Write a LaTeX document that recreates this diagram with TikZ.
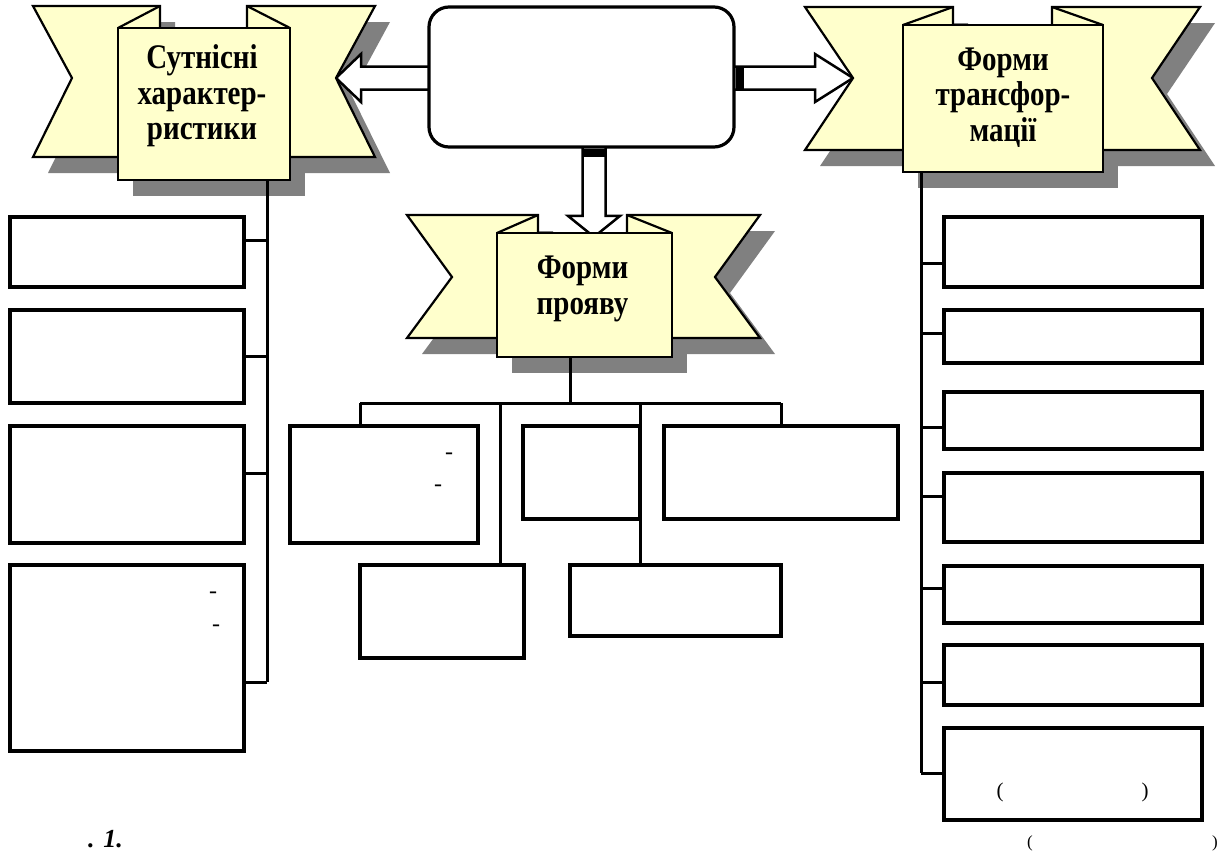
\documentclass[tikz,border=0pt]{standalone}
\usepackage{fontspec}
\setmainfont{Liberation Serif}
\newfontfamily\ribfont[FakeStretch=0.84]{Liberation Serif}
\usetikzlibrary{fit,calc}
\definecolor{ribbon}{RGB}{255,255,204}
\definecolor{shadowgray}{RGB}{128,128,128}
\pgfdeclarelayer{shadowlayer}
\pgfdeclarelayer{arrowlayer}
\pgfsetlayers{shadowlayer,arrowlayer,main}

\tikzset{
  box/.style={draw, line width=3.2pt, fill=white, inner sep=0pt},
  conn/.style={line width=3pt},
  rib/.style={draw, line width=2.2pt, fill=ribbon, line join=miter},
  ribline/.style={line width=2.2pt},
  sqbox/.style={draw, line width=2.2pt, fill=ribbon, inner sep=0pt},
  hollow/.style={draw, line width=2.5pt, fill=white, line join=miter},
  btext/.style={font=\ribfont\fontsize{34.5}{35.5}\selectfont\bfseries, align=center, inner sep=0pt},
  dashtext/.style={font=\fontsize{24}{28}\selectfont, inner sep=0pt},
  partext/.style={font=\fontsize{21}{24}\selectfont, inner sep=0pt},
  captext/.style={font=\fontsize{17}{20}\selectfont, inner sep=0pt},
  figtext/.style={font=\fontsize{26}{30}\selectfont\bfseries\itshape, inner sep=0pt},
}

% #1 name, #2 L, #3 R, #4 T, #5 B, #6 SL, #7 SR, #8 ST, #9 SB
\newcommand\banner[9]{%
  \begin{pgfonlayer}{shadowlayer}
    \fill[shadowgray, shift={(15,16)}] (#2,#4) -- (#6+\ribfl,#4) -- (#6+\ribfl,#5) -- (#2,#5) -- (#2+\ribnd,\ribny) -- cycle;
    \fill[shadowgray, shift={(15,16)}] (#3,#4) -- (#7-\ribfr,#4) -- (#7-\ribfr,#5) -- (#3,#5) -- (#3-\ribnd,\ribny) -- cycle;
    \fill[shadowgray, shift={(15,16)}] (#6,#8) rectangle (#7,#9);
  \end{pgfonlayer}
  \path[rib] (#2,#4) -- (#6+\ribfl,#4) -- (#6+\ribfl,#5) -- (#2,#5) -- (#2+\ribnd,\ribny) -- cycle;
  \draw[ribline] (#6+\ribfl,#4) -- (#6,#8);
  \path[rib] (#3,#4) -- (#7-\ribfr,#4) -- (#7-\ribfr,#5) -- (#3,#5) -- (#3-\ribnd,\ribny) -- cycle;
  \draw[ribline] (#7-\ribfr,#4) -- (#7,#8);
  \node[sqbox, fit={(#6,#8) (#7,#9)}] (#1) {};
  \coordinate (#1-ln) at (#2+\ribnd,\ribny);
  \coordinate (#1-rn) at (#3-\ribnd,\ribny);
}

\begin{document}
\begin{tikzpicture}[x=1pt,y=-1pt]
\useasboundingbox (0,0) rectangle (1229,855);

% ribbons
\def\ribfl{42}\def\ribfr{43}\def\ribnd{39}\def\ribny{78}
\banner{lsq}{33}{375}{6}{157}{118}{290}{28}{180}
\def\ribfl{41}\def\ribfr{45}\def\ribnd{45}\def\ribny{277}
\banner{csq}{407}{760}{215}{338}{497}{672}{233}{357}
\def\ribfl{50}\def\ribfr{51}\def\ribnd{48}\def\ribny{78}
\banner{rsq}{805}{1200}{7}{150}{903}{1103}{25}{172}

\node[btext] (lt) at ($(lsq.center)+(-2,-8)$) {Сутнісні\\характер-\\ристики};
\node[btext] (ct) at ($(csq.center)+(-2,-6)$) {Форми\\прояву};
\node[btext] (rt) at ($(rsq.center)+(0,-1)$) {Форми\\трансфор-\\мації};

% central box
\node[box, rounded corners=20pt, fit={(429,7) (734,147)}] (cb) {};

% hollow arrows
\coordinate (dtip) at ($(csq.north)+(9.5,5)$);
\begin{pgfonlayer}{arrowlayer}
\path[hollow] let \p1=(lsq-rn), \p2=(cb.center) in
  (\x2,\y1+11.5pt) -- (\x1+25pt,\y1+11.5pt) -- (\x1+25pt,\y1+24pt) -- (\p1)
  -- (\x1+25pt,\y1-24pt) -- (\x1+25pt,\y1-11.5pt) -- (\x2,\y1-11.5pt) -- cycle;
\path[hollow] let \p1=(rsq-ln), \p2=(cb.center) in
  (\x2,\y1+11.5pt) -- (\x1-38pt,\y1+11.5pt) -- (\x1-38pt,\y1+24pt) -- (\p1)
  -- (\x1-38pt,\y1-24pt) -- (\x1-38pt,\y1-11.5pt) -- (\x2,\y1-11.5pt) -- cycle;
\path[hollow] let \p1=(dtip), \p2=(cb.center) in
  (\x1-11.5pt,\y2) -- (\x1-11.5pt,\y1+21pt) -- (\x1-26pt,\y1+21pt) -- (\p1)
  -- (\x1+26pt,\y1+21pt) -- (\x1+11.5pt,\y1+21pt) -- (\x1+11.5pt,\y2) -- cycle;
\end{pgfonlayer}
\fill let \p1=(rsq-ln), \p2=(cb.east) in (\x2,\y1+11.5pt) rectangle (\x2+8pt,\y1-11.5pt);
\fill let \p1=(dtip), \p2=(cb.south) in (\x1-11.5pt,\y2) rectangle (\x1+11.5pt,\y2-8pt);

% left column
\node[box, fit={(10,217) (244,287)}] (l1) {};
\node[box, fit={(10,310) (244,403)}] (l2) {};
\node[box, fit={(10,426) (244,543)}] (l3) {};
\node[box, fit={(10,565) (244,751)}] (l4) {};
% centre boxes
\node[box, fit={(290,426) (478,543)}] (bA) {};
\node[box, fit={(523,426) (640,519)}] (bB) {};
\node[box, fit={(664,426) (898,519)}] (bC) {};
\node[box, fit={(360,565) (524,658)}] (bD) {};
\node[box, fit={(570,565) (781,636)}] (bE) {};
% right column
\node[box, fit={(944,217) (1202,287)}] (r1) {};
\node[box, fit={(944,310) (1202,363)}] (r2) {};
\node[box, fit={(944,392) (1202,449)}] (r3) {};
\node[box, fit={(944,473) (1202,542)}] (r4) {};
\node[box, fit={(944,566) (1202,623)}] (r5) {};
\node[box, fit={(944,645) (1202,705)}] (r6) {};
\node[box, fit={(944,728) (1202,820)}] (r7) {};

% left connectors
\coordinate (ls) at (267,0);
\foreach \b/\s in {l1/12,l2/0,l3/11.5,l4/-24}{
  \coordinate (\b-c) at ([yshift=\s pt]\b.east);
  \draw[conn] (\b-c) -- (\b-c -| ls);
}
\draw[conn] (lsq.south -| ls) -- (l4-c -| ls);

% right connectors
\coordinate (rs) at (921,0);
\foreach \b/\s in {r1/-11,r2/3.5,r3/-6.5,r4/11.5,r5/6.5,r6/-7,r7/1}{
  \coordinate (\b-c) at ([yshift=\s pt]\b.west);
  \draw[conn] (\b-c) -- (\b-c -| rs);
}
\draw[conn] (rsq.south -| rs) -- (r7-c -| rs);

% centre connectors
\coordinate (bus) at (0,403);
\coordinate (cdrop) at ([xshift=-14.5pt]csq.south);
\coordinate (aTop) at ([xshift=-24pt]bA.north);
\coordinate (dTop) at ([xshift=58pt]bD.north);
\coordinate (eTop) at ([xshift=-35.5pt]bE.north);
\draw[conn] (cdrop) -- (cdrop |- bus);
\draw[conn] (aTop |- bus) -- (bC.north |- bus);
\draw[conn] (aTop) -- (aTop |- bus);
\draw[conn] (dTop) -- (dTop |- bus);
\draw[conn] (eTop) -- (eTop |- bus);
\draw[conn] (bC.north) -- (bC.north |- bus);

% small texts
\node[dashtext] (d1) at (449,456) {-};
\node[dashtext] (d2) at (438,488) {-};
\node[dashtext] (d3) at (213,595) {-};
\node[dashtext] (d4) at (216,628) {-};
\node[partext] (p1) at (1000,792) {(};
\node[partext] (p2) at (1145,792) {)};
\node[captext] (p3) at (1030,843) {(};
\node[captext] (p4) at (1215,843) {)};
\node[figtext, anchor=base west] (fig) at (88,847) {. 1.};
\end{tikzpicture}
\end{document}
